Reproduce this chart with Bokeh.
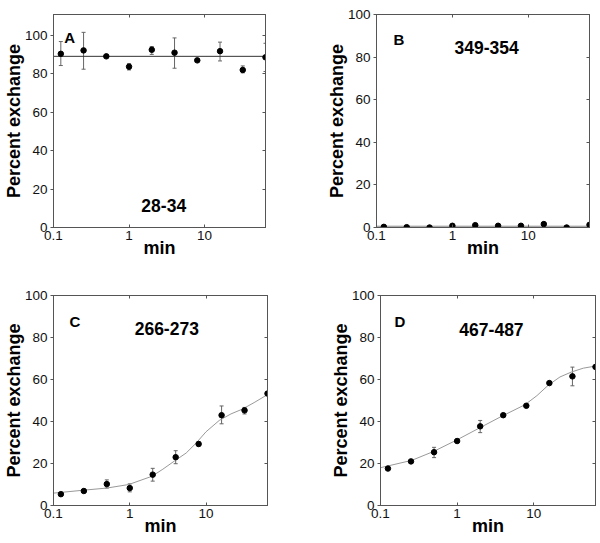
from bokeh.plotting import figure
from bokeh.layouts import column, row
from bokeh.models import (ColumnDataSource, Whisker, TeeHead, FixedTicker, LogAxis,
                          LinearAxis, Label, CustomJSTickFormatter, Range1d)
from bokeh.embed import file_html
from bokeh.resources import INLINE

# ---------------- data ----------------
times = [0.125, 0.25, 0.5, 1, 2, 4, 8, 16, 32, 64]
x_ticks = [0.1, 1, 10]
y_ticks = [0, 20, 40, 60, 80, 100]

a_vals = [90.5, 92.3, 89.2, 83.8, 92.6, 91.1, 87.1, 91.9, 82.1, 88.7]
a_lo = [84.4, 82.5, 89.2, 82.1, 90.2, 83.0, 87.1, 86.8, 80.6, 81.3]
a_hi = [96.9, 101.7, 89.2, 85.4, 94.3, 98.8, 87.1, 96.6, 84.2, 96.0]
a_fit_x = [0.1, 64]
a_fit_y = [89.2, 89.2]

b_vals = [0.3, 0.15, 0.0, 0.8, 1.1, 0.8, 0.8, 1.6, 0.0, 1.25]
b_lo = list(b_vals)
b_hi = list(b_vals)
b_fit_x = [0.1, 64]
b_fit_y = [0.6, 0.6]

c_vals = [5.4, 6.9, 10.2, 8.3, 14.7, 23.0, 29.3, 43.0, 45.3, 53.3]
c_lo = [5.4, 6.9, 8.3, 6.5, 11.6, 19.9, 28.3, 38.9, 43.6, 53.3]
c_hi = [5.4, 6.9, 12.2, 10.3, 17.7, 26.1, 30.3, 47.4, 46.7, 53.3]
c_fit_x = [0.1, 0.25, 0.5, 0.97, 1.95, 2.72, 3.86, 5.49, 7.41, 10, 14.9, 21.2, 30, 42.7, 64]
c_fit_y = [5.9, 7.3, 8.3, 10.0, 13.9, 17.3, 21.2, 25.0, 29.7, 35.1, 40.5, 43.6, 45.9, 49.0, 52.8]

d_vals = [17.6, 21.0, 25.4, 30.7, 37.7, 43.0, 47.5, 58.3, 61.5, 66.0]
d_lo = [17.6, 21.0, 22.8, 30.7, 34.7, 43.0, 47.5, 58.3, 57.0, 66.0]
d_hi = [17.6, 21.0, 27.7, 30.7, 40.5, 43.0, 47.5, 58.3, 65.9, 66.0]
d_fit_x = [0.1, 0.256, 0.491, 0.99, 2.0, 3.82, 7.7, 11, 15.5, 22, 31.2, 44.4, 64]
d_fit_y = [18.0, 21.5, 25.7, 31.2, 37.1, 42.5, 48.0, 52.3, 57.3, 61.2, 63.6, 65.4, 66.4]

FONT = "Liberation Sans"
FRAME = "#555555"


def panel(w, h, borders, yend, vals, lo, hi, fit_x, fit_y, fit_color,
          letter, letter_pos, name, name_pos):
    left, right, top, bottom = borders
    p = figure(width=w, height=h, x_axis_type="log",
               x_range=Range1d(0.1, 64), y_range=Range1d(0, yend),
               output_backend="svg", toolbar_location=None,
               min_border_left=left, min_border_right=right,
               min_border_top=top, min_border_bottom=bottom)
    p.grid.visible = False
    p.outline_line_color = FRAME
    p.background_fill_color = "white"
    p.border_fill_color = "white"

    xa = p.xaxis[0]
    xa.ticker = FixedTicker(ticks=x_ticks, minor_ticks=[])
    xa.formatter = CustomJSTickFormatter(code="return tick.toString();")
    xa.axis_label = "min"
    ya = p.yaxis[0]
    ya.ticker = FixedTicker(ticks=y_ticks, minor_ticks=[])
    ya.axis_label = "Percent exchange"
    for ax in (xa, ya):
        ax.axis_line_color = FRAME
        ax.major_tick_line_color = FRAME
        ax.major_label_text_font = FONT
        ax.major_label_text_font_size = "13.5px"
        ax.major_label_text_color = "#111111"
        ax.axis_label_text_font = FONT
        ax.axis_label_text_font_style = "bold"
        ax.axis_label_text_font_size = "18px"
        ax.axis_label_text_color = "black"
    xa.major_tick_in = 3
    xa.major_tick_out = 0
    xa.major_label_standoff = 3
    xa.axis_label_standoff = -5
    ya.major_tick_in = 0
    ya.major_tick_out = 3
    ya.major_label_standoff = 3
    ya.axis_label_standoff = -2

    top_ax = LogAxis(ticker=FixedTicker(ticks=x_ticks, minor_ticks=[]),
                     major_label_text_font_size="1px", major_label_text_alpha=0,
                     major_label_standoff=0,
                     major_tick_in=3, major_tick_out=0,
                     axis_line_color=FRAME, major_tick_line_color=FRAME)
    right_ax = LinearAxis(ticker=FixedTicker(ticks=y_ticks, minor_ticks=[]),
                          major_label_text_font_size="1px", major_label_text_alpha=0,
                          major_label_standoff=0,
                          major_tick_in=3, major_tick_out=0,
                          axis_line_color=FRAME, major_tick_line_color=FRAME)
    p.add_layout(top_ax, "above")
    p.add_layout(right_ax, "right")

    p.line(fit_x, fit_y, line_color=fit_color, line_width=1)

    ex, elo, ehi = [], [], []
    for t, l, u in zip(times, lo, hi):
        if u - l > 1.0:
            ex.append(t)
            elo.append(l)
            ehi.append(u)
    if ex:
        src = ColumnDataSource(dict(x=ex, lower=elo, upper=ehi))
        p.add_layout(Whisker(source=src, base="x", lower="lower", upper="upper",
                             dimension="height", line_color="#666666", line_width=1,
                             upper_head=TeeHead(size=4, line_color="#666666", line_width=1),
                             lower_head=TeeHead(size=4, line_color="#666666", line_width=1)))

    p.scatter(times, vals, size=5.5, marker="circle", fill_color="black",
              line_color="black")

    p.add_layout(Label(x=letter_pos[0], y=letter_pos[1], text=letter,
                       text_font=FONT, text_font_style="bold", text_font_size="15px",
                       text_color="black",
                       text_baseline="alphabetic", text_align="left"))
    p.add_layout(Label(x=name_pos[0], y=name_pos[1], text=name,
                       text_font=FONT, text_font_style="bold", text_font_size="17.5px",
                       text_color="black",
                       text_baseline="alphabetic", text_align="left"))
    return p


pA = panel(300, 272, (50, 35, 14, 43), 111, a_vals, a_lo, a_hi, a_fit_x, a_fit_y,
           "#333333", "A", (0.139, 99), "28-34", (1.456, 11.3))
pB = panel(300, 272, (76, 11, 13, 45), 100, b_vals, b_lo, b_hi, b_fit_x, b_fit_y,
           "#888888", "B", (0.167, 88.3), "349-354", (1.065, 84.3))
pC = panel(300, 271, (53, 33, 23, 34), 100, c_vals, c_lo, c_hi, c_fit_x, c_fit_y,
           "#999999", "C", (0.162, 87.8), "266-273", (1.16, 84.3))
pD = panel(300, 271, (80, 5, 20, 38), 100, d_vals, d_lo, d_hi, d_fit_x, d_fit_y,
           "#999999", "D", (0.152, 87.5), "467-487", (1.07, 84.0))

layout = column(row(pA, pB), row(pC, pD))

open("out.html", "w").write(file_html(layout, INLINE))
